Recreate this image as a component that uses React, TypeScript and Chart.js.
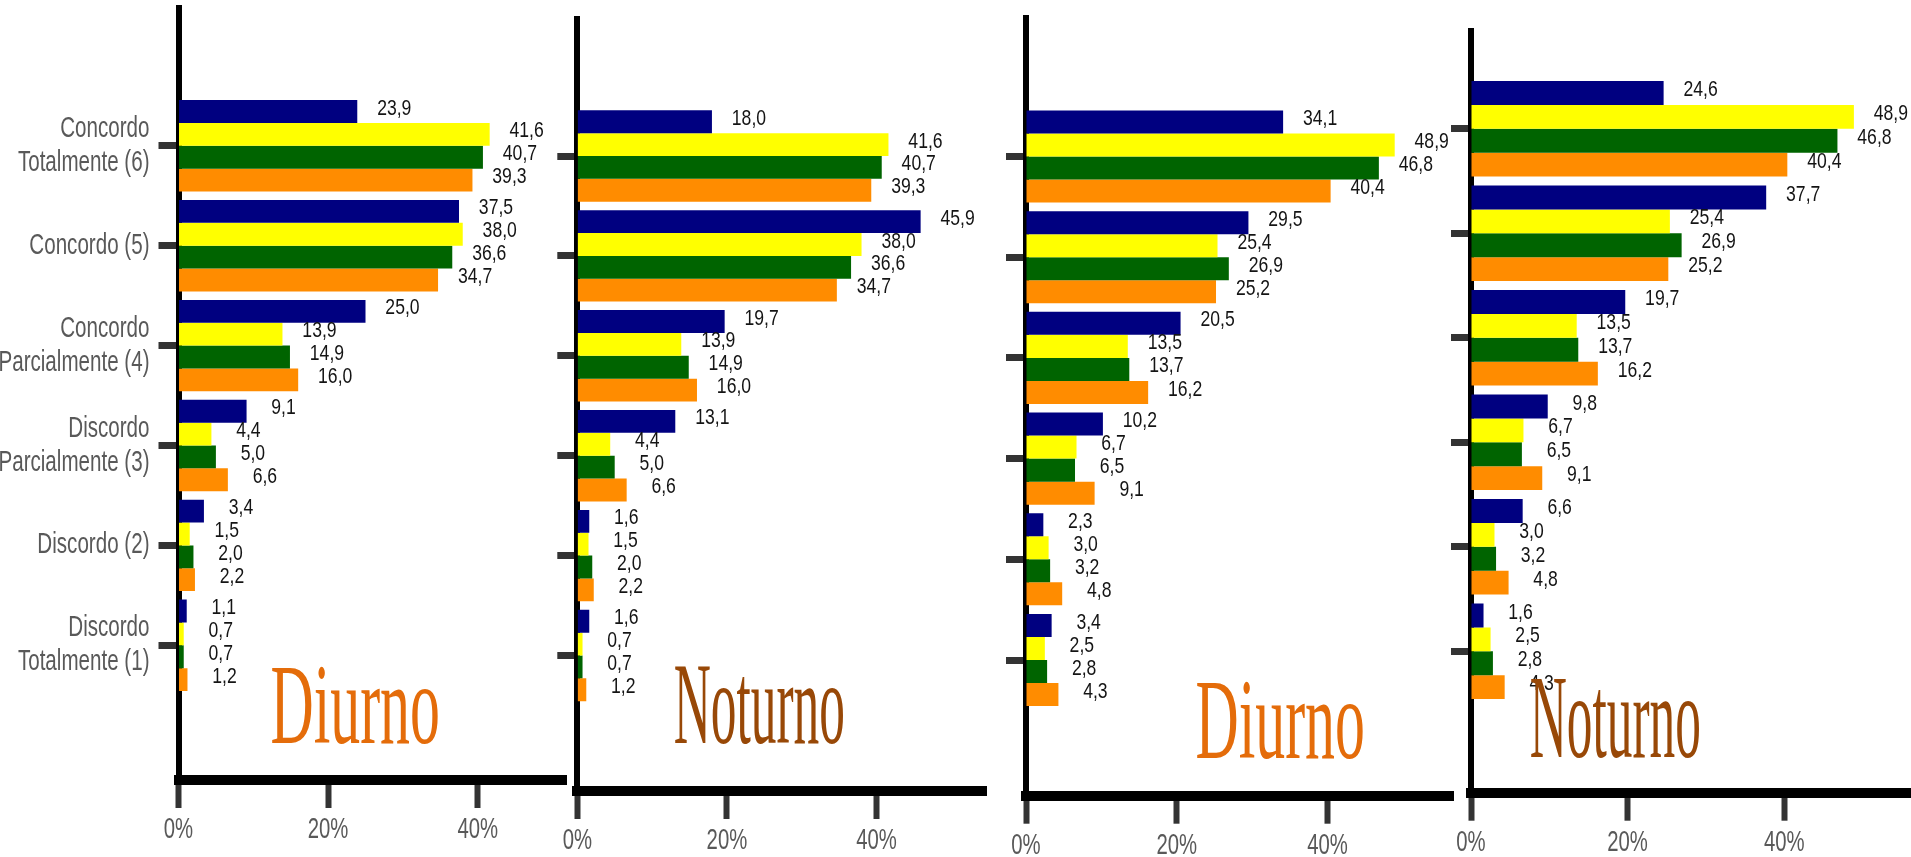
import React, { useEffect, useRef } from 'react';
import { Chart, registerables } from 'chart.js';

Chart.register(...registerables);

// ---------- DATA ----------
const categories = [
  'Concordo\nTotalmente (6)',
  'Concordo (5)',
  'Concordo\nParcialmente (4)',
  'Discordo\nParcialmente (3)',
  'Discordo (2)',
  'Discordo\nTotalmente (1)',
];

const xTickValues = [0, 20, 40];

const seriesNames = ['Série 1', 'Série 2', 'Série 3', 'Série 4'];

// Panel 1 – Diurno
const diurno1Navy = [23.9, 37.5, 25.0, 9.1, 3.4, 1.1];
const diurno1Yellow = [41.6, 38.0, 13.9, 4.4, 1.5, 0.7];
const diurno1Green = [40.7, 36.6, 14.9, 5.0, 2.0, 0.7];
const diurno1Orange = [39.3, 34.7, 16.0, 6.6, 2.2, 1.2];

// Panel 2 – Noturno
const noturno1Navy = [18.0, 45.9, 19.7, 13.1, 1.6, 1.6];
const noturno1Yellow = [41.6, 38.0, 13.9, 4.4, 1.5, 0.7];
const noturno1Green = [40.7, 36.6, 14.9, 5.0, 2.0, 0.7];
const noturno1Orange = [39.3, 34.7, 16.0, 6.6, 2.2, 1.2];

// Panel 3 – Diurno
const diurno2Navy = [34.1, 29.5, 20.5, 10.2, 2.3, 3.4];
const diurno2Yellow = [48.9, 25.4, 13.5, 6.7, 3.0, 2.5];
const diurno2Green = [46.8, 26.9, 13.7, 6.5, 3.2, 2.8];
const diurno2Orange = [40.4, 25.2, 16.2, 9.1, 4.8, 4.3];

// Panel 4 – Noturno
const noturno2Navy = [24.6, 37.7, 19.7, 9.8, 6.6, 1.6];
const noturno2Yellow = [48.9, 25.4, 13.5, 6.7, 3.0, 2.5];
const noturno2Green = [46.8, 26.9, 13.7, 6.5, 3.2, 2.8];
const noturno2Orange = [40.4, 25.2, 16.2, 9.1, 4.8, 4.3];

const panelTitles = ['Diurno', 'Noturno', 'Diurno', 'Noturno'];

// ---------- STYLE / LAYOUT ----------
const seriesColors = ['#000080', '#FFFF00', '#006400', '#FF8C00'];
const SANS = "'Liberation Sans', Arial, sans-serif";
const SERIF = "'Liberation Serif', 'Times New Roman', 'DejaVu Serif', serif";
const PAGE_H = 857;

type Layout = {
  left: number; width: number; axisX: number; top: number; bottom: number; right: number;
  pxPerPct: number; firstCenter: number; spacing: number; showLabels: boolean;
  titleColor: string; titleX: number; titleW: number; titleBase: number; titleCap: number;
};

const layouts: Layout[] = [
  { left: 0, width: 575, axisX: 178.5, top: 8, bottom: 780, right: 566, pxPerPct: 7.48, firstCenter: 145.8, spacing: 99.9, showLabels: true,
    titleColor: '#E46C0A', titleX: 272, titleW: 166, titleBase: 743, titleCap: 76 },
  { left: 550, width: 445, axisX: 577.3, top: 19, bottom: 791, right: 986, pxPerPct: 7.48, firstCenter: 156, spacing: 99.9, showLabels: false,
    titleColor: '#984807', titleX: 675, titleW: 168, titleBase: 742.7, titleCap: 76 },
  { left: 1000, width: 460, axisX: 1026, top: 18, bottom: 795.7, right: 1453, pxPerPct: 7.54, firstCenter: 156.5, spacing: 100.7, showLabels: false,
    titleColor: '#E46C0A', titleX: 1197, titleW: 166, titleBase: 758.3, titleCap: 76 },
  { left: 1445, width: 466, axisX: 1471, top: 31, bottom: 792.7, right: 1911, pxPerPct: 7.83, firstCenter: 128.8, spacing: 104.5, showLabels: false,
    titleColor: '#984807', titleX: 1531, titleW: 168, titleBase: 757.3, titleCap: 77 },
];

const panelSeries = [
  [diurno1Navy, diurno1Yellow, diurno1Green, diurno1Orange],
  [noturno1Navy, noturno1Yellow, noturno1Green, noturno1Orange],
  [diurno2Navy, diurno2Yellow, diurno2Green, diurno2Orange],
  [noturno2Navy, noturno2Yellow, noturno2Green, noturno2Orange],
];

const fmt = (v: number) => v.toFixed(1).replace('.', ',');

// condensed text: horizontal squeeze of a regular face
function drawText(ctx: CanvasRenderingContext2D, text: string, x: number, y: number, align: CanvasTextAlign,
  size: number, sx: number, color: string) {
  ctx.save();
  ctx.font = `${size}px ${SANS}`;
  ctx.fillStyle = color;
  ctx.textAlign = align;
  ctx.textBaseline = 'middle';
  ctx.translate(x, y);
  ctx.scale(sx, 1);
  ctx.fillText(text, 0, 0);
  ctx.restore();
}

function makeChart(canvas: HTMLCanvasElement, idx: number) {
  const L = layouts[idx];
  const series = panelSeries[idx];
  const title = panelTitles[idx];
  const axisX = L.axisX - L.left;
  const right = L.right - L.left;
  const xMax = (right - axisX) / L.pxPerPct;
  const yMin = 1 - (L.firstCenter - L.top) / L.spacing;
  const yMax = yMin + (L.bottom - L.top) / L.spacing;

  const valueLabels = {
    id: 'valueLabels',
    afterDatasetsDraw(chart: any) {
      const ctx = chart.ctx;
      chart.data.datasets.forEach((ds: any, di: number) => {
        const meta = chart.getDatasetMeta(di);
        meta.data.forEach((bar: any, i: number) => {
          const v = ds.data[i].x;
          drawText(ctx, fmt(v), bar.x + 37, bar.y - 3, 'center', 22, 0.8, '#141414');
        });
      });
    },
  };

  const axisText = {
    id: 'axisText',
    afterDraw(chart: any) {
      const ctx = chart.ctx;
      const xs = chart.scales.x;
      const ys = chart.scales.y;
      const base = chart.chartArea.bottom;
      xTickValues.forEach((v) => {
        drawText(ctx, `${v}%`, xs.getPixelForValue(v), base + 50, 'center', 29, 0.7, '#595959');
      });
      if (L.showLabels) {
        const labelRight = chart.chartArea.left - 29;
        categories.forEach((c, i) => {
          const lines = c.split('\n');
          const cy = ys.getPixelForValue(i + 1);
          lines.forEach((ln, k) => {
            drawText(ctx, ln, labelRight, cy + (k - (lines.length - 1) / 2) * 34, 'right', 29, 0.71, '#595959');
          });
        });
      }
    },
  };

  const panelTitle = {
    id: 'panelTitle',
    afterDraw(chart: any) {
      const ctx = chart.ctx;
      ctx.save();
      ctx.font = `100px ${SERIF}`;
      let m = ctx.measureText(title);
      const fs = (100 * L.titleCap) / m.actualBoundingBoxAscent;
      ctx.font = `${fs}px ${SERIF}`;
      m = ctx.measureText(title);
      const ink = m.actualBoundingBoxLeft + m.actualBoundingBoxRight;
      const sx = L.titleW / ink;
      ctx.fillStyle = L.titleColor;
      ctx.textAlign = 'left';
      ctx.textBaseline = 'alphabetic';
      ctx.translate(L.titleX - L.left, L.titleBase);
      ctx.scale(sx, 1);
      ctx.fillText(title, m.actualBoundingBoxLeft, 0);
      ctx.restore();
    },
  };

  return new Chart(canvas, {
    type: 'bar',
    data: {
      datasets: series.map((vals, si) => ({
        label: seriesNames[si],
        data: vals.map((v, i) => ({ x: v, y: i + 1 })),
        backgroundColor: seriesColors[si],
        borderWidth: 0,
        categoryPercentage: 0.915,
        barPercentage: 1,
      })),
    },
    options: {
      indexAxis: 'y',
      animation: false,
      responsive: true,
      maintainAspectRatio: false,
      layout: { padding: { left: 0, top: L.top, right: L.width - right, bottom: 0 } },
      plugins: { legend: { display: false }, tooltip: { enabled: false }, title: { display: false } },
      scales: {
        x: {
          type: 'linear',
          position: 'bottom',
          min: 0,
          max: xMax,
          offset: false,
          afterBuildTicks: (s: any) => { s.ticks = xTickValues.map((v) => ({ value: v })); },
          afterFit: (s: any) => { s.height = PAGE_H - L.bottom; s.paddingLeft = 0; s.paddingRight = 0; },
          border: { display: true, color: '#000000', width: 10 },
          grid: { offset: false, drawOnChartArea: false, drawTicks: true, tickLength: 28, tickWidth: 6, tickColor: '#333333' },
          ticks: { autoSkip: false, maxRotation: 0, callback: () => '' },
        },
        y: {
          type: 'linear',
          reverse: true,
          min: yMin,
          max: yMax,
          offset: false,
          z: 1,
          afterBuildTicks: (s: any) => { s.ticks = categories.map((_, i) => ({ value: i + 1 })); },
          afterFit: (s: any) => { s.width = axisX; s.paddingTop = 0; s.paddingBottom = 0; },
          border: { display: true, color: '#000000', width: 6 },
          grid: { offset: false, drawOnChartArea: false, drawTicks: true, tickLength: 20, tickWidth: 7, tickColor: '#333333' },
          ticks: { autoSkip: false, callback: () => '' },
        },
      },
    },
    plugins: [valueLabels, axisText, panelTitle],
  } as any);
}

function Panel({ idx }: { idx: number }) {
  const ref = useRef<HTMLCanvasElement | null>(null);
  useEffect(() => {
    if (!ref.current) return;
    const chart = makeChart(ref.current, idx);
    return () => chart.destroy();
  }, [idx]);
  const L = layouts[idx];
  return (
    <div style={{ position: 'absolute', left: L.left, top: 0, width: L.width, height: PAGE_H }}>
      <canvas ref={ref} style={{ display: 'block' }} />
    </div>
  );
}

export default function App() {
  return (
    <div style={{ position: 'absolute', left: 0, top: 0, width: 1911, height: PAGE_H, background: '#ffffff', overflow: 'hidden' }}>
      {layouts.map((_, i) => (
        <Panel key={i} idx={i} />
      ))}
    </div>
  );
}
